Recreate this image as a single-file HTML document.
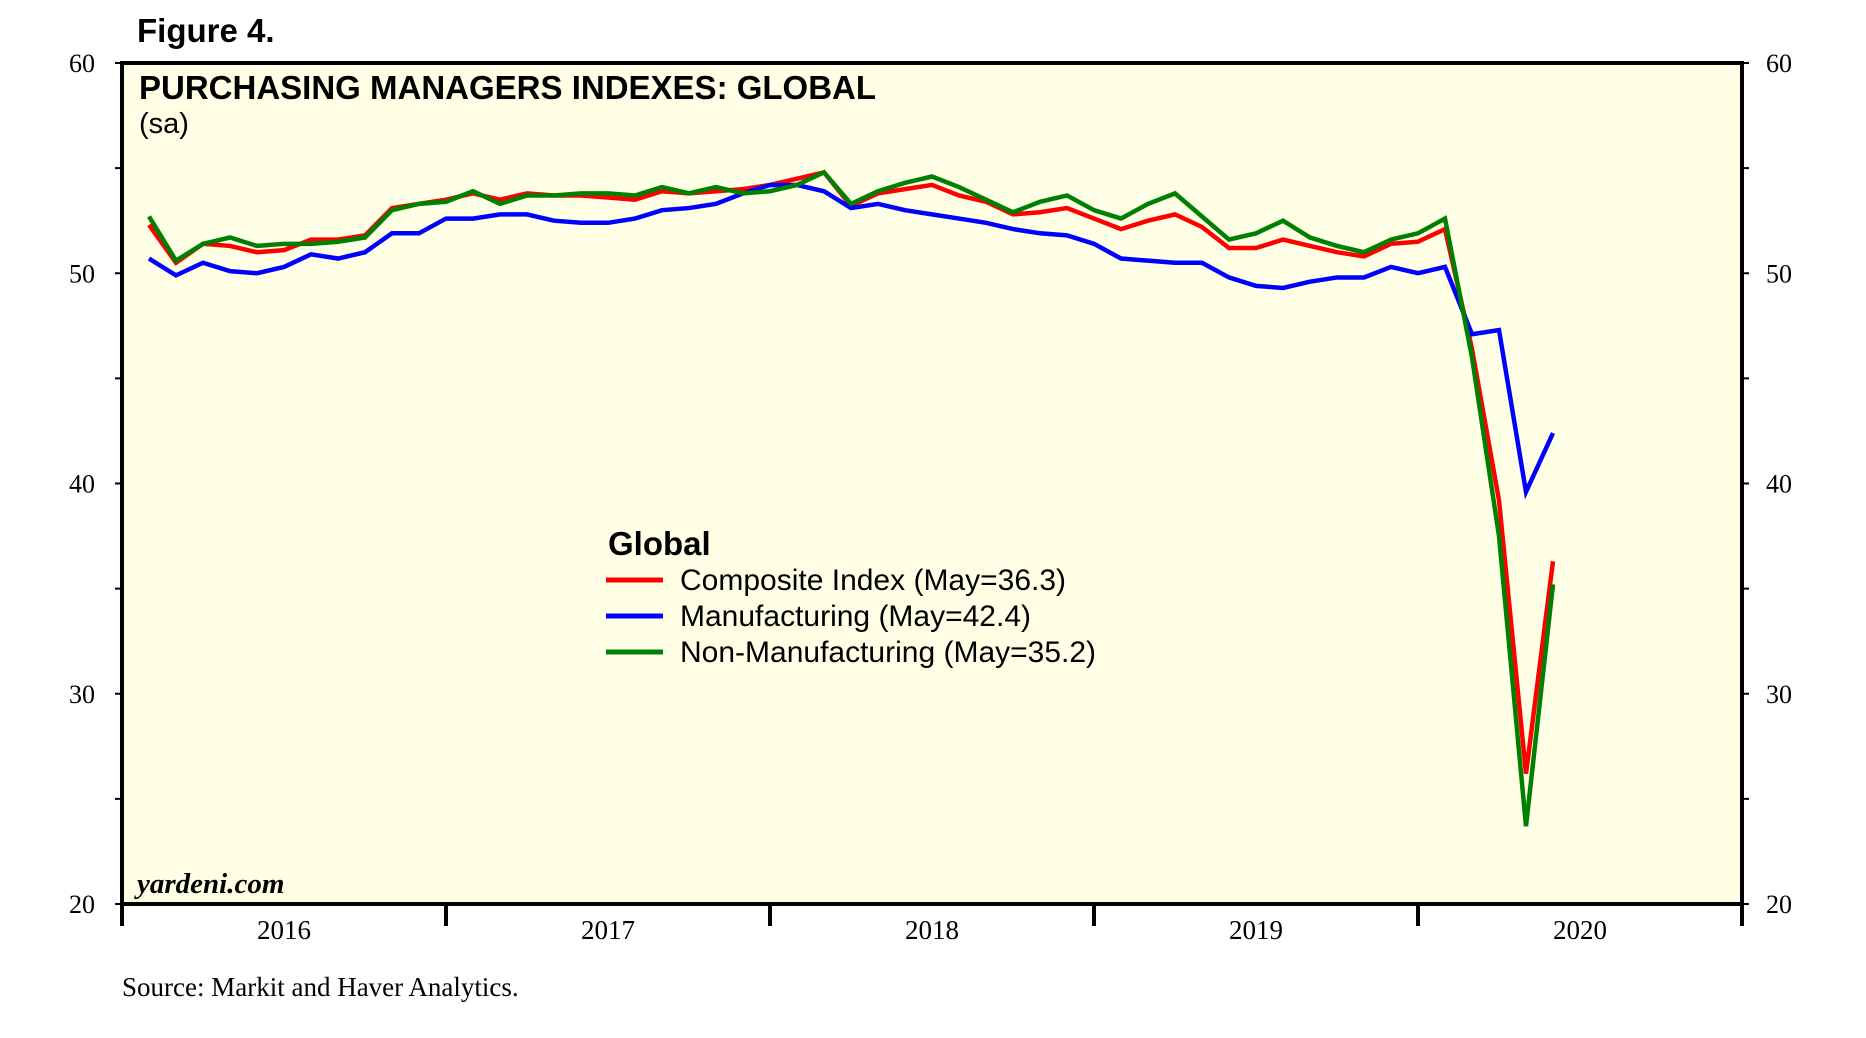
<!DOCTYPE html>
<html><head><meta charset="utf-8"><style>
body{margin:0;background:#fff;}
svg{display:block;}
</style></head><body>
<svg width="1866" height="1038" xmlns="http://www.w3.org/2000/svg">
<text x="137" y="42" font-family="Liberation Sans, sans-serif" font-weight="bold" font-size="33">Figure 4.</text>
<rect x="122" y="63" width="1620" height="841" fill="#ffffe6" stroke="#000" stroke-width="4"/>
<text x="139" y="99" font-family="Liberation Sans, sans-serif" font-weight="bold" font-size="33">PURCHASING MANAGERS INDEXES: GLOBAL</text>
<text x="139" y="133" font-family="Liberation Sans, sans-serif" font-size="29">(sa)</text>
<g id="axes"></g>
<g id="series"></g>
<g>
<text x="608" y="555" font-family="Liberation Sans, sans-serif" font-weight="bold" font-size="33">Global</text>
<line x1="606" y1="580" x2="663" y2="580" stroke="#ff0000" stroke-width="5"/>
<text x="680" y="590" font-family="Liberation Sans, sans-serif" font-size="30">Composite Index (May=36.3)</text>
<line x1="606" y1="616" x2="663" y2="616" stroke="#0000ff" stroke-width="5"/>
<text x="680" y="626" font-family="Liberation Sans, sans-serif" font-size="30">Manufacturing (May=42.4)</text>
<line x1="606" y1="652" x2="663" y2="652" stroke="#008000" stroke-width="5"/>
<text x="680" y="662" font-family="Liberation Sans, sans-serif" font-size="30">Non-Manufacturing (May=35.2)</text>
</g>
<text x="137" y="893" font-family="Liberation Serif, serif" font-weight="bold" font-style="italic" font-size="29">yardeni.com</text>
<text x="122" y="996" font-family="Liberation Serif, serif" font-size="27">Source:  Markit and Haver Analytics.</text>
</svg>
<script>
const years = ['2016','2017','2018','2019','2020'];
const yTicks = [20,30,40,50,60];
const composite = [52.3,50.5,51.4,51.3,51.0,51.1,51.6,51.6,51.8,53.1,53.3,53.5,53.8,53.5,53.8,53.7,53.7,53.6,53.5,53.9,53.8,53.9,54.0,54.2,54.5,54.8,53.2,53.8,54.0,54.2,53.7,53.4,52.8,52.9,53.1,52.6,52.1,52.5,52.8,52.2,51.2,51.2,51.6,51.3,51.0,50.8,51.4,51.5,52.1,46.4,39.2,26.2,36.3];
const manufacturing = [50.7,49.9,50.5,50.1,50.0,50.3,50.9,50.7,51.0,51.9,51.9,52.6,52.6,52.8,52.8,52.5,52.4,52.4,52.6,53.0,53.1,53.3,53.8,54.2,54.2,53.9,53.1,53.3,53.0,52.8,52.6,52.4,52.1,51.9,51.8,51.4,50.7,50.6,50.5,50.5,49.8,49.4,49.3,49.6,49.8,49.8,50.3,50.0,50.3,47.1,47.3,39.6,42.4];
const nonManufacturing = [52.7,50.6,51.4,51.7,51.3,51.4,51.4,51.5,51.7,53.0,53.3,53.4,53.9,53.3,53.7,53.7,53.8,53.8,53.7,54.1,53.8,54.1,53.8,53.9,54.2,54.8,53.3,53.9,54.3,54.6,54.1,53.5,52.9,53.4,53.7,53.0,52.6,53.3,53.8,52.7,51.6,51.9,52.5,51.7,51.3,51.0,51.6,51.9,52.6,46.0,37.5,23.7,35.2];

const NS='http://www.w3.org/2000/svg';
const L=122,R=1742,T=63,B=904,yMin=20,yMax=60;
const yearW=(R-L)/5, monthW=yearW/12;
const xScale=i=>L+(i+1)*monthW;
const yScale=v=>B-(v-yMin)/(yMax-yMin)*(B-T);
function mk(tag,attrs,parent){const e=document.createElementNS(NS,tag);for(const k in attrs)e.setAttribute(k,attrs[k]);parent.appendChild(e);return e;}
const axes=document.getElementById('axes');
for(let v=20;v<=60;v+=5){
  const y=yScale(v);
  const t1=mk('line',{x1:L-7,y1:y,x2:L,y2:y,stroke:'#000','stroke-width':2},axes);
  
  
  const t2=mk('line',{x1:R,y1:y,x2:R+7,y2:y,stroke:'#000','stroke-width':2},axes);
  
  
}
yTicks.forEach(v=>{
  const y=yScale(v);
  const a=mk('text',{x:95,y:y+9,'text-anchor':'end','font-family':'Liberation Serif, serif','font-size':26},axes);
  a.textContent=v;
  
  
  const b=mk('text',{x:1766,y:y+9,'font-family':'Liberation Serif, serif','font-size':26},axes);
  b.textContent=v;
  
  
});
for(let i=0;i<=5;i++){
  const x=L+i*yearW;
  const t=mk('line',{x1:x,y1:B,x2:x,y2:B+22,stroke:'#000','stroke-width':4},axes);
  
  
}
years.forEach((yr,i)=>{
  const t=mk('text',{x:L+(i+0.5)*yearW,y:939,'text-anchor':'middle','font-family':'Liberation Serif, serif','font-size':27},axes);
  t.textContent=yr;
  
  
});
const sg=document.getElementById('series');
[[composite,'#ff0000','composite-line'],[manufacturing,'#0000ff','manufacturing-line'],[nonManufacturing,'#008000','nonmanufacturing-line']].forEach(([d,c,n])=>{
  const p=mk('polyline',{points:d.map((v,i)=>xScale(i)+','+yScale(v)).join(' '),fill:'none',stroke:c,'stroke-width':4.5,'stroke-linejoin':'miter'},sg);
  
  
});
</script>
</body></html>
